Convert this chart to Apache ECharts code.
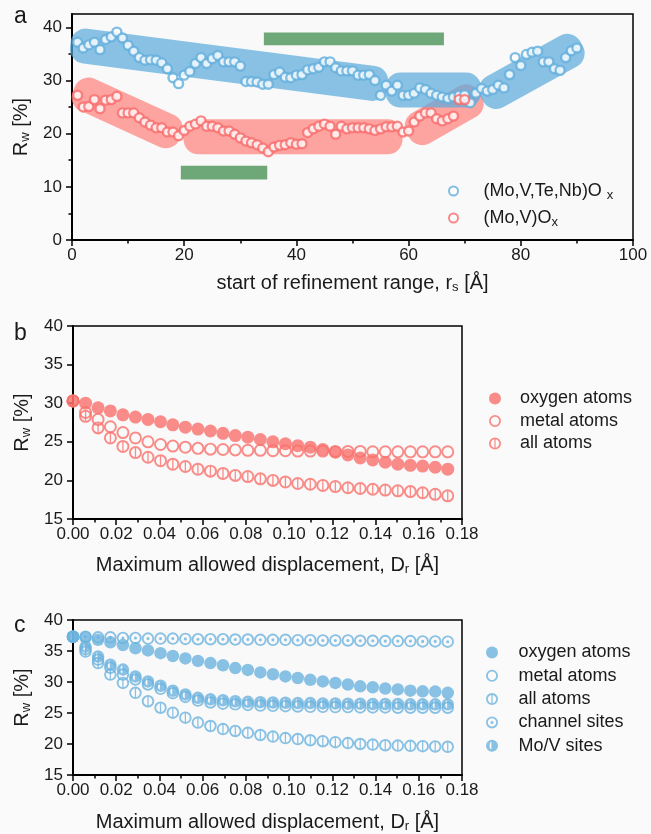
<!DOCTYPE html>
<html>
<head>
<meta charset="utf-8">
<script src="https://cdn.jsdelivr.net/npm/echarts@6/dist/echarts.min.js"></script>
<style>
  html, body { margin: 0; padding: 0; background: #fafafa; }
  #chart { width: 651px; height: 834px; }
</style>
</head>
<body>
<div id="chart"></div>
<script>
// panel a: R_w vs start of refinement range r_s
var rsBlue = [1, 2, 3, 4, 5, 6, 7, 8, 9, 10, 11, 12, 13, 14, 15, 16, 17, 18, 19, 20,
  21, 22, 23, 24, 25, 26, 27, 28, 29, 30, 31, 32, 33, 34, 35, 36, 37, 38, 39, 40,
  41, 42, 43, 44, 45, 46, 47, 48, 49, 50, 51, 52, 53, 54, 55, 56, 57, 58, 59, 60,
  61, 62, 63, 64, 65, 66, 67, 68, 69, 70, 71, 72, 73, 74, 75, 76, 77, 78, 79, 80,
  81, 82, 83, 84, 85, 86, 87, 88, 89, 90]
var rwBlue = [37.2, 36.1, 36.7, 37.2, 35.8, 37.7, 38.2, 39.1, 38.0, 36.6,
  35.5, 34.3, 33.8, 33.9, 33.8, 33.3, 32.2, 30.5, 29.4, 31.0,
  31.7, 33.2, 34.3, 33.2, 34.1, 34.7, 33.5, 33.5, 33.5, 32.7,
  29.8, 29.8, 29.7, 29.3, 29.3, 31.1, 31.6, 30.6, 30.5, 31.0,
  31.1, 32.0, 32.2, 32.5, 33.5, 33.5, 32.4, 31.8, 31.8, 31.8,
  31.0, 31.0, 31.1, 30.0, 27.2, 29.1, 28.0, 29.1, 27.2, 27.2,
  27.6, 28.6, 28.3, 27.6, 27.2, 26.9, 26.6, 26.9, 27.2, 27.3,
  25.8, 27.6, 28.5, 28.0, 28.3, 29.1, 28.6, 31.1, 34.3, 32.8,
  34.9, 35.3, 35.5, 33.5, 33.5, 32.2, 31.9, 34.3, 35.6, 36.1]
var rsRed = [1, 2, 3, 4, 5, 6, 7, 8, 9, 10, 11, 12, 13, 14, 15, 16, 17, 18, 19, 20,
  21, 22, 23, 24, 25, 26, 27, 28, 29, 30, 31, 32, 33, 34, 35, 36, 37, 38, 39, 40,
  41, 42, 43, 44, 45, 46, 47, 48, 49, 50, 51, 52, 53, 54, 55, 56, 57, 58, 59, 60,
  61, 62, 63, 64, 65, 66, 67, 68, 69, 70]
var rwRed = [27.2, 25.0, 25.1, 26.4, 24.7, 26.3, 26.4, 27.0, 23.9, 23.9,
  23.9, 23.0, 22.2, 21.6, 21.1, 21.1, 20.3, 20.3, 19.6, 20.6,
  21.4, 21.8, 22.4, 21.4, 21.4, 21.1, 20.5, 20.5, 19.9, 19.2,
  18.6, 18.3, 17.9, 17.3, 16.6, 17.5, 17.8, 17.9, 18.3, 18.0,
  18.1, 20.2, 20.9, 21.4, 21.8, 21.4, 19.9, 21.4, 20.9, 21.1,
  21.1, 21.1, 20.9, 20.6, 20.9, 21.3, 21.3, 21.4, 20.3, 20.5,
  22.2, 23.3, 23.9, 23.9, 22.8, 22.4, 22.8, 23.3, 26.4, 26.4]
// highlighted ranges: [r start, Rw start, r end, Rw end]
var blueBands = [[2.8, 36.4, 53.2, 29.5], [59.0, 28.2, 69.8, 28.2], [75.8, 28.1, 88.1, 35.3]]
var redBands = [[3.2, 27.1, 16.5, 20.7], [23.0, 19.4, 55.8, 19.4], [62.6, 21.3, 70.1, 25.8]]
// green bars: [r from, Rw from, r to, Rw to]
var greenBars = [[34.2, 36.6, 66.3, 39.0], [19.4, 11.4, 34.8, 13.95]]

// panels b and c: R_w vs maximum allowed displacement D_r
var dr = [0, 0.0058, 0.0116, 0.0173, 0.0231, 0.0289, 0.0347, 0.0405, 0.0462, 0.052,
  0.0578, 0.0636, 0.0694, 0.0751, 0.0809, 0.0867, 0.0925, 0.0983, 0.104, 0.1098,
  0.1156, 0.1214, 0.1272, 0.1329, 0.1387, 0.1445, 0.1503, 0.1561, 0.1618, 0.1676, 0.1734]
var oxyB = [30.3, 30.0, 29.4, 29.0, 28.5, 28.2, 27.9, 27.6, 27.2, 26.9, 26.65, 26.4, 26.1, 25.8, 25.6, 25.3,
  25.0, 24.75, 24.5, 24.3, 24.0, 23.65, 23.3, 22.9, 22.65, 22.35, 22.1, 21.95, 21.85, 21.7, 21.45]
var metB = [30.3, 28.8, 27.9, 26.95, 26.2, 25.5, 25.0, 24.65, 24.45, 24.3, 24.15, 24.05, 24.0, 23.95, 23.9, 23.9,
  23.85, 23.85, 23.8, 23.8, 23.8, 23.75, 23.75, 23.75, 23.7, 23.7, 23.7, 23.7, 23.7, 23.7, 23.7]
var allB = [30.3, 28.3, 26.8, 25.5, 24.4, 23.6, 23.0, 22.55, 22.1, 21.8, 21.45, 21.2, 20.9, 20.65, 20.5, 20.2,
  20.0, 19.8, 19.6, 19.5, 19.35, 19.2, 19.05, 18.95, 18.85, 18.75, 18.65, 18.55, 18.4, 18.2, 18.0]
var oxyC = [37.3, 37.2, 36.8, 36.4, 35.95, 35.45, 35.1, 34.65, 34.2, 33.8, 33.4, 33.05, 32.7, 32.25, 31.95, 31.55,
  31.25, 30.9, 30.65, 30.35, 30.1, 29.85, 29.6, 29.3, 29.15, 28.95, 28.8, 28.6, 28.5, 28.45, 28.25]
var metC = [37.3, 35.3, 33.6, 32.3, 31.2, 30.4, 29.6, 28.9, 28.2, 27.6, 27.0, 26.7, 26.5, 26.4, 26.3, 26.2,
  26.15, 26.1, 26.05, 26.0, 26.0, 25.95, 25.95, 25.9, 25.9, 25.9, 25.85, 25.85, 25.85, 25.85, 25.85]
var allC = [37.3, 34.9, 33.05, 31.2, 29.85, 28.25, 26.9, 25.85, 25.05, 24.25, 23.45, 22.9, 22.4, 22.1, 21.8, 21.45,
  21.2, 20.95, 20.8, 20.6, 20.45, 20.3, 20.15, 20.0, 19.9, 19.8, 19.75, 19.7, 19.65, 19.6, 19.55]
var chanC = [37.3, 37.3, 37.2, 37.2, 37.1, 37.1, 37.0, 37.0, 37.0, 36.95, 36.9, 36.9, 36.9, 36.85, 36.85, 36.8,
  36.8, 36.8, 36.75, 36.75, 36.7, 36.7, 36.7, 36.65, 36.65, 36.6, 36.6, 36.6, 36.55, 36.55, 36.5]
var movC = [37.3, 35.7, 34.1, 32.8, 32.0, 30.9, 30.1, 29.4, 28.6, 28.0, 27.45, 27.2, 27.05, 26.9, 26.8, 26.75,
  26.7, 26.65, 26.6, 26.6, 26.55, 26.55, 26.5, 26.5, 26.45, 26.45, 26.45, 26.4, 26.4, 26.4, 26.4]

var labels = {
  blueA: '{n|(Mo,V,Te,Nb)O} {s|x}',
  redA: '{n|(Mo,V)O}{s|x}',
  oxyB: 'oxygen atoms', metB: 'metal atoms', allB: 'all atoms',
  oxyC: 'oxygen atoms', metC: 'metal atoms', allC: 'all atoms',
  chanC: 'channel sites', movC: 'Mo/V sites'
}

var FONT = 'Liberation Sans, Arial, sans-serif'
var TXT = '#1a1a1a'
var BLUE = '#62aedc'
var RED = '#f76b6b'
var REDB = '#f9706c'
var BLUEC = '#6cb3df'

// marker shapes (outer ring clockwise, holes counter-clockwise)
var OUTER = 'M10 0A10 10 0 0 1 10 20A10 10 0 0 1 10 0Z'
var HOLE = 'M10 3A7 7 0 0 0 10 17A7 7 0 0 0 10 3Z'
var RING = 'path://' + OUTER + HOLE
var RING_BAR = 'path://' + OUTER + HOLE + 'M9 3L11 3L11 17L9 17Z'
var RING_DOT = 'path://' + OUTER + HOLE + 'M10 7.5A2.5 2.5 0 0 1 10 12.5A2.5 2.5 0 0 1 10 7.5Z'
var HALF = 'path://' + OUTER + 'M9 4A3 6 0 0 0 9 16Z'

function zip (xs, ys) {
  return xs.map(function (x, i) { return [x, ys[i]] })
}

var BAND_W = 35
function bandItem (fill) {
  return function (params, api) {
    var p1 = api.coord([api.value(0), api.value(1)])
    var p2 = api.coord([api.value(2), api.value(3)])
    var dx = p2[0] - p1[0]
    var dy = p2[1] - p1[1]
    var len = Math.sqrt(dx * dx + dy * dy)
    return {
      type: 'rect',
      x: p1[0],
      y: p1[1],
      rotation: -Math.atan2(dy, dx),
      shape: { x: -BAND_W / 2, y: -BAND_W / 2, width: len + BAND_W, height: BAND_W, r: 15 },
      style: { fill: fill }
    }
  }
}

function boxItem (params, api) {
  var p1 = api.coord([api.value(0), api.value(3)])
  var p2 = api.coord([api.value(2), api.value(1)])
  return {
    type: 'rect',
    shape: { x: p1[0], y: p1[1], width: p2[0] - p1[0], height: p2[1] - p1[1] },
    style: { fill: '#6fa878' }
  }
}

var sub = { fontSize: 13, lineHeight: 13, padding: [9, 0, 0, 0], fontFamily: FONT, color: TXT }

function xAx (grid, min, max, step, name, gap, fmt) {
  return {
    type: 'value', gridIndex: grid, min: min, max: max, interval: step,
    name: name, nameLocation: 'middle', nameGap: gap,
    nameTextStyle: { fontSize: 20, color: TXT, fontFamily: FONT, rich: { s: sub } },
    axisLine: { onZero: false, lineStyle: { color: '#000', width: 2 } },
    axisTick: { inside: false, length: 6, lineStyle: { color: '#000', width: 1.5 } },
    minorTick: { show: true, splitNumber: 2, length: 3.5, lineStyle: { color: '#000', width: 1.5 } },
    axisLabel: { fontSize: 17, color: TXT, fontFamily: FONT, margin: 7, formatter: fmt },
    splitLine: { show: false }
  }
}

function yAx (grid, min, max, step, showName) {
  return {
    type: 'value', gridIndex: grid, min: min, max: max, interval: step, position: 'left',
    name: showName ? 'R{s|w} [%]' : '', nameLocation: 'middle', nameGap: 29, nameRotate: 90,
    nameTextStyle: { fontSize: 20, color: TXT, fontFamily: FONT, rich: { s: sub } },
    axisLine: { onZero: false, lineStyle: { color: '#000', width: 2 } },
    axisTick: { inside: false, length: 6, lineStyle: { color: '#000', width: 1.5 } },
    axisLabel: { fontSize: 17, color: TXT, fontFamily: FONT, margin: 10 },
    splitLine: { show: false }
  }
}

var yA = yAx(0, 0, 42.5, 10, true)
yA.axisTick.customValues = [0, 10, 20, 30, 40]
yA.axisLabel.customValues = [0, 10, 20, 30, 40]
var yAminor = yAx(0, 0, 42.5, 5, false)
yAminor.axisLine.show = false
yAminor.axisLabel.show = false
yAminor.axisTick.length = 3.5
yAminor.axisTick.customValues = [5, 15, 25, 35]

function pts (name, xi, yi, xs, ys, symbol, size, style) {
  return {
    name: name, type: 'scatter', xAxisIndex: xi, yAxisIndex: yi,
    data: zip(xs, ys), symbol: symbol, symbolSize: size,
    itemStyle: style, silent: true
  }
}

function legendFor (names, left, top, w, h, gap, lh) {
  return {
    data: names, orient: 'vertical', left: left, top: top,
    itemWidth: w, itemHeight: h, itemGap: gap, selectedMode: false,
    formatter: function (n) { return labels[n] },
    textStyle: {
      fontSize: 18, color: TXT, fontFamily: FONT, lineHeight: lh,
      rich: { n: { fontSize: 18, lineHeight: lh, fontFamily: FONT, color: TXT }, s: sub }
    }
  }
}

var chart = echarts.init(document.getElementById('chart'), null, { renderer: 'canvas' })
chart.setOption({
  animation: false,
  backgroundColor: '#fafafa',
  textStyle: { fontFamily: FONT },
  title: [
    { text: 'a', left: 9, top: 0, textStyle: { fontSize: 23, fontWeight: 'normal', color: TXT, fontFamily: FONT } },
    { text: 'b', left: 9, top: 317, textStyle: { fontSize: 23, fontWeight: 'normal', color: TXT, fontFamily: FONT } },
    { text: 'c', left: 9, top: 609, textStyle: { fontSize: 23, fontWeight: 'normal', color: TXT, fontFamily: FONT } }
  ],
  grid: [
    { left: 72, top: 14, width: 561, height: 226, show: true, borderColor: '#000', borderWidth: 1.5, backgroundColor: '#f9f9f9' },
    { left: 73, top: 326, width: 389, height: 193, show: true, borderColor: '#000', borderWidth: 1.5, backgroundColor: '#f9f9f9' },
    { left: 73, top: 620, width: 389, height: 156, show: true, borderColor: '#000', borderWidth: 1.5, backgroundColor: '#f9f9f9' }
  ],
  xAxis: [
    xAx(0, 0, 100, 20, 'start of refinement range, r{s|s} [Å]', 33),
    xAx(1, 0, 0.18, 0.02, 'Maximum allowed displacement, D{s|r} [Å]', 36, function (v) { return v.toFixed(2) }),
    xAx(2, 0, 0.18, 0.02, 'Maximum allowed displacement, D{s|r} [Å]', 37, function (v) { return v.toFixed(2) })
  ],
  yAxis: [yA, yAminor, yAx(1, 15, 40, 5, true), yAx(2, 15, 40, 5, true)],
  legend: [
    legendFor(['blueA', 'redA'], 443, 175, 50, 9, 5, 22),
    legendFor(['oxyB', 'metB', 'allB'], 484, 383, 40, 12, 1.5, 21),
    legendFor(['oxyC', 'metC', 'allC', 'chanC', 'movC'], 481, 637, 43, 12, 2.3, 21)
  ],
  series: [
    { type: 'custom', xAxisIndex: 0, yAxisIndex: 0, data: redBands, encode: { x: [0, 2], y: [1, 3] },
      renderItem: bandItem('rgba(255,127,122,0.7)'), silent: true },
    { type: 'custom', xAxisIndex: 0, yAxisIndex: 0, data: blueBands, encode: { x: [0, 2], y: [1, 3] },
      renderItem: bandItem('rgba(90,169,220,0.7)'), silent: true },
    { type: 'custom', xAxisIndex: 0, yAxisIndex: 0, data: greenBars, encode: { x: [0, 2], y: [1, 3] },
      renderItem: boxItem, silent: true },
    pts('blueA', 0, 0, rsBlue, rwBlue, 'circle', 9, { color: '#fff', borderColor: BLUE, borderWidth: 2.4 }),
    pts('redA', 0, 0, rsRed, rwRed, 'circle', 9, { color: '#fff', borderColor: RED, borderWidth: 2.4 }),

    pts('oxyB', 1, 2, dr, oxyB, 'circle', 13, { color: REDB }),
    pts('metB', 1, 2, dr, metB, RING, 13, { color: REDB }),
    pts('allB', 1, 2, dr, allB, RING_BAR, 13, { color: REDB }),

    pts('oxyC', 2, 3, dr, oxyC, 'circle', 12.5, { color: BLUEC }),
    pts('metC', 2, 3, dr, metC, RING, 12.5, { color: BLUEC }),
    pts('allC', 2, 3, dr, allC, RING_BAR, 12.5, { color: BLUEC }),
    pts('chanC', 2, 3, dr, chanC, RING_DOT, 12.5, { color: BLUEC }),
    pts('movC', 2, 3, dr, movC, HALF, 12.5, { color: BLUEC })
  ]
})
</script>
</body>
</html>
